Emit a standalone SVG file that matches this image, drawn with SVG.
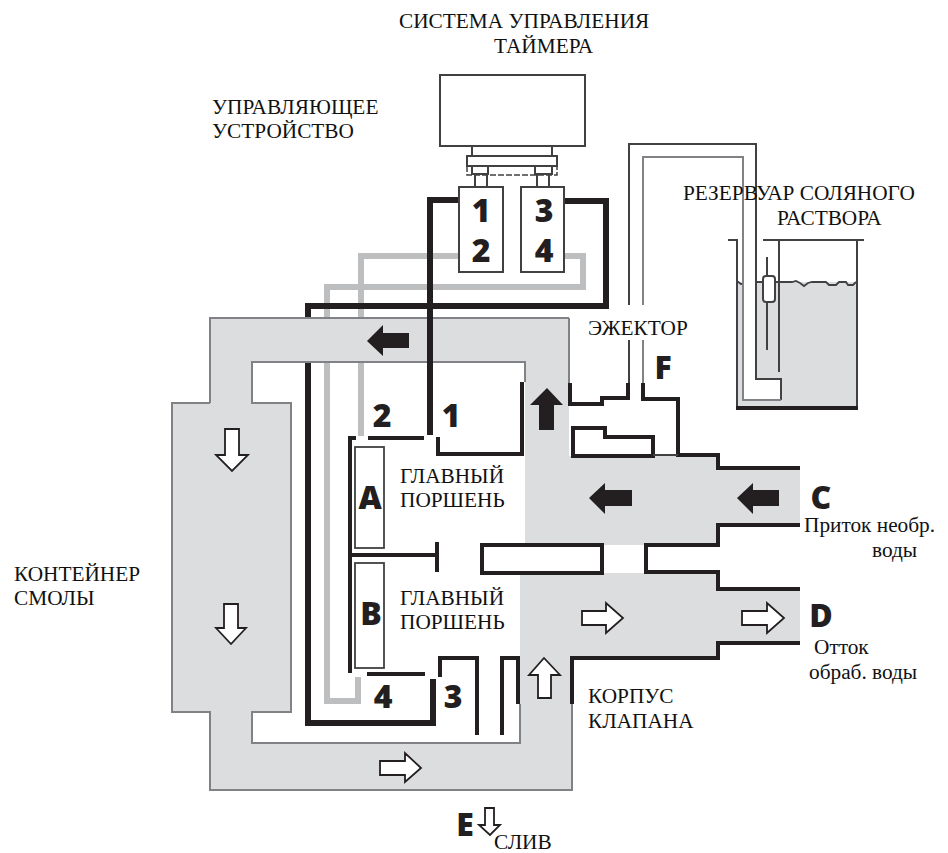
<svg xmlns="http://www.w3.org/2000/svg" width="948" height="853" viewBox="0 0 948 853">
<style>
text{font-family:"Liberation Serif",serif;font-size:21.3px;fill:#111}
text.big{font-family:"Open Sans",sans-serif;font-weight:800;font-size:32px;fill:#231f20;text-anchor:middle}
.blk{fill:none;stroke:#231f20;stroke-width:6;stroke-linejoin:miter}
.gry{fill:none;stroke:#bcbec0;stroke-width:6;stroke-linejoin:miter}
.wall{fill:none;stroke:#231f20;stroke-width:4;stroke-linejoin:miter}
.thin{fill:none;stroke:#414042;stroke-width:2}
.tube{fill:none;stroke:#808285;stroke-width:2}
.fa{fill:#231f20}
.wa{fill:#fff;stroke:#231f20;stroke-width:1.8}
</style>
<rect width="948" height="853" fill="#fff"/>
<g id="connectors">
<path class="gry" d="M459,256H361V436"/>
<path class="gry" d="M564,256H583V287H327V701H358V677"/>
<path class="blk" d="M564,201H606V306H308V723H433V679"/>
</g>
<g id="housing">
<path d="M210,318H569V456H718V468H800V525H718V545H525V362H252V403H291V712H252V743H520V573H718V589H800V643H718V658H572V790H210V712H172V403H210Z" fill="#dcddde"/>
<path d="M569,318V383M210,403V318H569M525,382V362H252V403H291V712H252V743H520V704M572,704V790H210V712H172V403H210" fill="none" stroke="#808285" stroke-width="2"/>
<path d="M571,404H678V456H571Z" fill="#fff"/>
<path d="M604,545H644V573H604Z" fill="#fff"/>
</g>
<path id="connector-1" class="blk" d="M459,200H430V435"/>
<g id="timer">
<rect x="440" y="75" width="145" height="71" fill="#fff" stroke="#414042" stroke-width="2"/>
<path class="thin" d="M472,146V156M552,146V156"/>
<rect x="467" y="156" width="90" height="10" fill="#fff" stroke="#414042" stroke-width="2"/>
<rect x="467" y="166" width="90" height="9" fill="none" stroke="#414042" stroke-width="1.5" stroke-dasharray="6 2"/>
<rect x="472" y="166" width="16" height="8" fill="#fff" stroke="#414042" stroke-width="2"/>
<rect x="535" y="166" width="17" height="8" fill="#fff" stroke="#414042" stroke-width="2"/>
<path class="thin" d="M475,174V187M487,174V187M537,174V187M549,174V187"/>
</g>
<g id="valve-12"><rect x="459" y="187" width="44" height="85" fill="#fff" stroke="#414042" stroke-width="2"/>
<text class="big" x="481" y="222">1</text><text class="big" x="481" y="262">2</text></g>
<g id="valve-34"><rect x="521" y="187" width="43" height="85" fill="#fff" stroke="#414042" stroke-width="2"/>
<text class="big" x="544" y="222">3</text><text class="big" x="544" y="262">4</text></g>
<g id="brine-tank">
<path d="M737,282H856V408H737Z" fill="#dcddde"/>
<path d="M743,282V400H781V379H756V282Z" fill="#fff"/>
<path class="thin" d="M728,240H737V408H857V240M763,240H864M779,240V372"/>
<path d="M736,408H858" class="wall"/>
<path d="M737,281L741,284H743M756,282H792L796,281L800,283L804,286L808,283L812,282H826L829,285H836L839,282H846L848,285H853L856,282" fill="none" stroke="#414042" stroke-width="1.8"/>
<path class="thin" d="M767,257V350"/>
<rect x="763" y="276" width="12" height="26" rx="3" fill="#fff" stroke="#414042" stroke-width="2"/>
<path class="thin" d="M629,305V144H756V379H781V400M629,340V383"/>
<path class="tube" d="M643,305V157H743V400H781M643,340V383"/>
</g>
<g id="valve-body">
<path class="wall" d="M570,383V404H602V398H628V383M643,383V399H678V455H718V468H800"/>
<path class="wall" d="M573,428H605V437H653V456H573Z" fill="#fff"/>
<path class="thin" d="M653,455H678" stroke-width="1.5"/>
<path class="wall" d="M800,525H718V545H646V572H718V589H800M800,643H718V658H572V704"/>
<rect x="482" y="545" width="120" height="28" fill="#fff" stroke="#231f20" stroke-width="4"/>
<path class="wall" d="M438,437V454H522V382M440,677V658H477V735M502,735V658H518V704"/>
<path class="wall" d="M356,438H350V673M368,438H424M367,674H425M350,555H437M437,542V572"/>
</g>
<g id="piston-a"><rect x="355" y="447" width="29" height="101" fill="#fff" stroke="#414042" stroke-width="1.8"/><text class="big" x="370" y="509">A</text></g>
<g id="piston-b"><rect x="355" y="563" width="29" height="105" fill="#fff" stroke="#414042" stroke-width="1.8"/><text class="big" x="371" y="625">B</text></g>
<g id="arrows">
<path class="fa" d="M367,341L383,325V333H409V348H383V356Z"/>
<path class="fa" d="M547,388L563,405H554V430H539V405H530Z"/>
<path class="fa" d="M589,498L605,483V490H632V506H605V514Z"/>
<path class="fa" d="M737,498L753,483V490H779V506H753V514Z"/>
<path class="wa" d="M582,611H606V603L623,618L606,633V625H582Z"/>
<path class="wa" d="M742,611H767V603L784,618L767,633V625H742Z"/>
<path class="wa" d="M538,698V675H529L544,658L560,675H551V698Z"/>
<path class="wa" d="M380,761H405V753L421,768L405,782V775H380Z"/>
<path class="wa" d="M225,429H239V455H248L232,471L216,455H225Z"/>
<path class="wa" d="M224,604H238V628H246L231,644L216,628H224Z"/>
<path class="wa" d="M485,808H494V825H500L490,835L479,825H485Z"/>
</g>
<g id="labels">
<text class="big" x="382" y="427">2</text>
<text class="big" x="451" y="427">1</text>
<text class="big" x="383" y="708">4</text>
<text class="big" x="453" y="708">3</text>
<text class="big" x="663" y="379">F</text>
<text class="big" x="821" y="509">C</text>
<text class="big" x="821" y="627">D</text>
<text class="big" x="465" y="836">E</text>
<text x="399" y="28">СИСТЕМА УПРАВЛЕНИЯ</text>
<text x="494" y="53">ТАЙМЕРА</text>
<text x="212" y="114">УПРАВЛЯЮЩЕЕ</text>
<text x="212" y="138">УСТРОЙСТВО</text>
<text x="683" y="200">РЕЗЕРВУАР СОЛЯНОГО</text>
<text x="777" y="225">РАСТВОРА</text>
<text x="588" y="335">ЭЖЕКТОР</text>
<text x="400" y="483">ГЛАВНЫЙ</text>
<text x="400" y="507">ПОРШЕНЬ</text>
<text x="400" y="605">ГЛАВНЫЙ</text>
<text x="400" y="629">ПОРШЕНЬ</text>
<text x="14" y="581">КОНТЕЙНЕР</text>
<text x="14" y="605">СМОЛЫ</text>
<text x="588" y="703">КОРПУС</text>
<text x="588" y="728">КЛАПАНА</text>
<text x="804" y="532">Приток необр.</text>
<text x="872" y="557">воды</text>
<text x="814" y="654">Отток</text>
<text x="809" y="679">обраб. воды</text>
<text x="494" y="849">СЛИВ</text>
</g>
</svg>
